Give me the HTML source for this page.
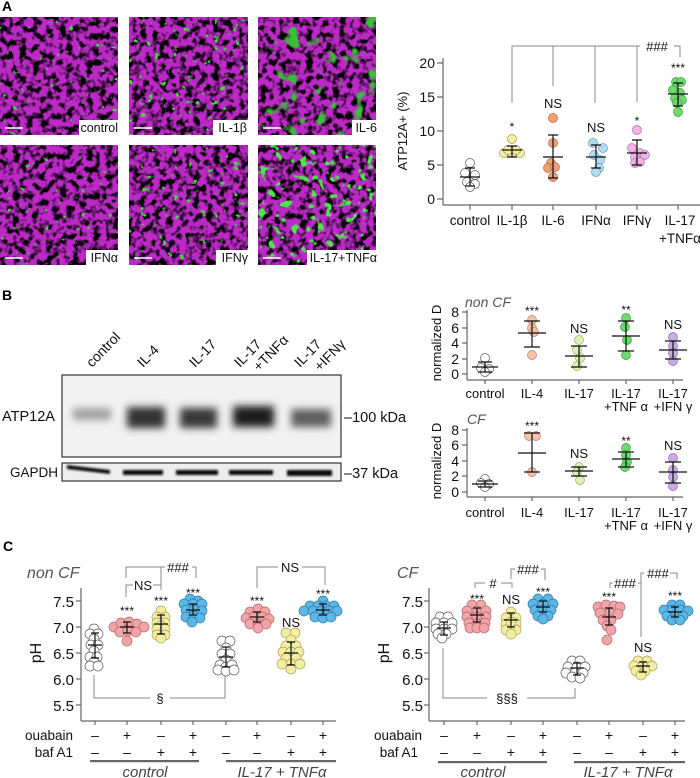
<!DOCTYPE html>
<html><head><meta charset="utf-8">
<style>
html,body{margin:0;padding:0;background:#fff;}
svg{display:block;font-family:"Liberation Sans",sans-serif;}
.ax{stroke:#666;stroke-width:1.2;fill:none}
.br{stroke:#888;stroke-width:1;fill:none}
.eb{stroke:#111;stroke-width:1.2;fill:none}
.t13{font-size:13px;fill:#111}
.t14{font-size:14px;fill:#111}
.st{font-size:12px;fill:#111}
.w{fill:#fff;stroke:#555;stroke-width:.7}
.ya{fill:#f6eea4;stroke:#9a9460;stroke-width:.7}
.or{fill:#f2a072;stroke:#a86a48;stroke-width:.7}
.lb{fill:#b0dbf2;stroke:#6a98b0;stroke-width:.7}
.pi{fill:#f2b2e6;stroke:#a87aa0;stroke-width:.7}
.gr{fill:#6cda6c;stroke:#3c9a3c;stroke-width:.7}
.sa{fill:#f6c2aa;stroke:#b08270;stroke-width:.7}
.lg{fill:#ddf2b2;stroke:#98aa70;stroke-width:.7}
.pu{fill:#c9aae6;stroke:#8a70a8;stroke-width:.7}
.pk{fill:#f2a4a6;stroke:#b06a6c;stroke-width:.7}
.yl{fill:#f4eea0;stroke:#a8a060;stroke-width:.7}
.bl{fill:#5cb6e6;stroke:#2d7aa8;stroke-width:.7}
.it{font-style:italic;fill:#555}
</style></head><body>
<svg width="700" height="778" viewBox="0 0 700 778" xmlns="http://www.w3.org/2000/svg">
<defs>
<filter id="m1" x="0" y="0" width="1" height="1" color-interpolation-filters="sRGB">
<feTurbulence type="fractalNoise" baseFrequency="0.15" numOctaves="2" seed="4"/>
<feColorMatrix type="matrix" values="0 0 0 0 0.74  0 0 0 0 0.16  0 0 0 0 0.78  4.5 0 0 0 -1.5"/>
</filter>
<filter id="g0" x="0" y="0" width="1" height="1" color-interpolation-filters="sRGB">
<feTurbulence type="fractalNoise" baseFrequency="0.16" numOctaves="2" seed="11"/>
<feColorMatrix type="matrix" values="0 0 0 0 0.25  0 0 0 0 0.85  0 0 0 0 0.25  14 0 0 0 -10.2"/>
</filter>
<filter id="g1" x="0" y="0" width="1" height="1" color-interpolation-filters="sRGB">
<feTurbulence type="fractalNoise" baseFrequency="0.15" numOctaves="2" seed="17"/>
<feColorMatrix type="matrix" values="0 0 0 0 0.25  0 0 0 0 0.85  0 0 0 0 0.25  12 0 0 0 -8.2"/>
</filter>
<filter id="g2" x="0" y="0" width="1" height="1" color-interpolation-filters="sRGB">
<feTurbulence type="fractalNoise" baseFrequency="0.06" numOctaves="2" seed="23"/>
<feColorMatrix type="matrix" values="0 0 0 0 0.22  0 0 0 0 0.75  0 0 0 0 0.22  9 0 0 0 -5.6"/>
</filter>
<filter id="g3" x="0" y="0" width="1" height="1" color-interpolation-filters="sRGB">
<feTurbulence type="fractalNoise" baseFrequency="0.12" numOctaves="2" seed="31"/>
<feColorMatrix type="matrix" values="0 0 0 0 0.3  0 0 0 0 0.9  0 0 0 0 0.3  10 0 0 0 -6.0"/>
</filter>
<filter id="bl3" x="-40%" y="-100%" width="180%" height="300%"><feGaussianBlur stdDeviation="4"/></filter>
<filter id="bl1" x="-10%" y="-100%" width="120%" height="300%"><feGaussianBlur stdDeviation="1"/></filter>
</defs>

<!-- Panel A images -->
<text x="2" y="11" style="font-size:14px;font-weight:bold;fill:#000">A</text>
<g>
<rect x="0" y="17" width="118" height="118" fill="#000"/>
<rect x="0" y="17" width="118" height="118" fill="#fff" filter="url(#m1)"/>
<rect x="0" y="17" width="118" height="118" fill="#fff" filter="url(#g0)"/>
<rect x="129" y="17" width="119" height="118" fill="#000"/>
<rect x="129" y="17" width="119" height="118" fill="#fff" filter="url(#m1)"/>
<rect x="129" y="17" width="119" height="118" fill="#fff" filter="url(#g1)"/>
<rect x="258" y="17" width="118" height="118" fill="#000"/>
<rect x="258" y="17" width="118" height="118" fill="#fff" filter="url(#m1)"/>
<rect x="258" y="17" width="118" height="118" fill="#fff" filter="url(#g2)"/>
<rect x="0" y="145" width="118" height="120" fill="#000"/>
<rect x="0" y="145" width="118" height="120" fill="#fff" filter="url(#m1)"/>
<rect x="0" y="145" width="118" height="120" fill="#fff" filter="url(#g0)"/>
<rect x="129" y="145" width="119" height="120" fill="#000"/>
<rect x="129" y="145" width="119" height="120" fill="#fff" filter="url(#m1)"/>
<rect x="129" y="145" width="119" height="120" fill="#fff" filter="url(#g1)"/>
<rect x="258" y="145" width="118" height="120" fill="#000"/>
<rect x="258" y="145" width="118" height="120" fill="#fff" filter="url(#m1)"/>
<rect x="258" y="145" width="118" height="120" fill="#fff" filter="url(#g3)"/>
<g stroke="#fff" stroke-width="1.6">
<line x1="5" y1="128" x2="23" y2="128"/><line x1="134" y1="128" x2="152" y2="128"/><line x1="263" y1="128" x2="281" y2="128"/>
<line x1="5" y1="258" x2="23" y2="258"/><line x1="134" y1="258" x2="152" y2="258"/><line x1="263" y1="258" x2="281" y2="258"/>
</g>
<g fill="#fff">
<rect x="79" y="120" width="39" height="15"/><rect x="213" y="120" width="35" height="15"/><rect x="352" y="120" width="24" height="15"/>
<rect x="86" y="250" width="32" height="15"/><rect x="216" y="250" width="32" height="15"/><rect x="307" y="250" width="69" height="15"/>
</g>
<g class="t13" text-anchor="end" style="font-size:12.5px">
<text x="118" y="132">control</text><text x="247" y="132">IL-1β</text><text x="377" y="132">IL-6</text>
<text x="118" y="262">IFNα</text><text x="248" y="262">IFNγ</text><text x="377" y="262">IL-17+TNFα</text>
</g>
</g>

<!-- Panel A chart -->
<g>
<line class="ax" x1="443" y1="58" x2="443" y2="205"/>
<line class="ax" x1="443" y1="205" x2="700" y2="205"/>
<g class="ax">
<line x1="437" y1="63" x2="443" y2="63"/><line x1="437" y1="97" x2="443" y2="97"/><line x1="437" y1="131" x2="443" y2="131"/><line x1="437" y1="165" x2="443" y2="165"/><line x1="437" y1="199" x2="443" y2="199"/>
<line x1="470" y1="205" x2="470" y2="210"/><line x1="512" y1="205" x2="512" y2="210"/><line x1="553" y1="205" x2="553" y2="210"/><line x1="596" y1="205" x2="596" y2="210"/><line x1="637" y1="205" x2="637" y2="210"/><line x1="678" y1="205" x2="678" y2="210"/>
</g>
<g class="t14" text-anchor="end">
<text x="435" y="68">20</text><text x="435" y="102">15</text><text x="435" y="136">10</text><text x="435" y="170">5</text><text x="435" y="204">0</text>
</g>
<text class="t13" transform="translate(407,131) rotate(-90)" text-anchor="middle">ATP12A+ (%)</text>
<g class="t13" text-anchor="middle" style="font-size:13.5px">
<text x="470" y="225">control</text><text x="512" y="225">IL-1β</text><text x="553" y="225">IL-6</text><text x="596" y="225">IFNα</text><text x="637" y="225">IFNγ</text><text x="680" y="225">IL-17</text><text x="680" y="243">+TNFα</text>
</g>
<path class="br" d="M512,103 V46 H640 M674,46 H680 V57 M553,46 V86 M595,46 V103 M637,46 V102"/>
<text class="t13" x="657" y="51" text-anchor="middle">###</text>
<g class="st" text-anchor="middle">
<text x="512" y="131">*</text><text x="637" y="125">*</text><text x="678" y="72">***</text>
</g>
<g class="t13" text-anchor="middle"><text x="553" y="108">NS</text><text x="596" y="132">NS</text></g>
<g>
<circle class="w" cx="470" cy="163" r="4.5"/><circle class="w" cx="465" cy="173" r="4.5"/><circle class="w" cx="475" cy="175" r="4.5"/><circle class="w" cx="467" cy="182" r="4.5"/><circle class="w" cx="475" cy="184" r="4.5"/><circle class="w" cx="470" cy="187" r="4.5"/>
<circle class="ya" cx="512" cy="139" r="4.5"/><circle class="ya" cx="504" cy="153" r="4.5"/><circle class="ya" cx="512" cy="153" r="4.5"/><circle class="ya" cx="520" cy="153" r="4.5"/><circle class="ya" cx="508" cy="150" r="4.5"/><circle class="ya" cx="516" cy="150" r="4.5"/>
<circle class="or" cx="553" cy="118" r="4.5"/><circle class="or" cx="553" cy="143" r="4.5"/><circle class="or" cx="551" cy="163" r="4.5"/><circle class="or" cx="548" cy="168" r="4.5"/><circle class="or" cx="555" cy="167" r="4.5"/><circle class="or" cx="553" cy="177" r="4.5"/>
<circle class="lb" cx="593" cy="143" r="4.5"/><circle class="lb" cx="603" cy="148" r="4.5"/><circle class="lb" cx="594" cy="155" r="4.5"/><circle class="lb" cx="600" cy="160" r="4.5"/><circle class="lb" cx="599" cy="168" r="4.5"/><circle class="lb" cx="596" cy="172" r="4.5"/>
<circle class="pi" cx="637" cy="130" r="4.5"/><circle class="pi" cx="632" cy="148" r="4.5"/><circle class="pi" cx="640" cy="153" r="4.5"/><circle class="pi" cx="635" cy="157" r="4.5"/><circle class="pi" cx="645" cy="155" r="4.5"/><circle class="pi" cx="635" cy="163" r="4.5"/><circle class="pi" cx="640" cy="162" r="4.5"/>
<circle class="gr" cx="676" cy="82" r="4.5"/><circle class="gr" cx="681" cy="82" r="4.5"/><circle class="gr" cx="673" cy="90" r="4.5"/><circle class="gr" cx="680" cy="93" r="4.5"/><circle class="gr" cx="675" cy="98" r="4.5"/><circle class="gr" cx="682" cy="100" r="4.5"/><circle class="gr" cx="677" cy="103" r="4.5"/><circle class="gr" cx="678" cy="112" r="4.5"/>
</g>
<path class="eb" d="M470,168V186M465,168H475M465,186H475M460,177H480
M512,146V157M507,146H517M507,157H517M502,150H522
M553,135V178M548,135H558M548,178H558M543,157H563
M596,145V168M591,145H601M591,168H601M586,157H606
M637,140V165M632,140H642M632,165H642M627,153H647
M678,83V106M673,83H683M673,106H683M668,94H688"/>
</g>

<!-- Panel B blot -->
<text x="2" y="300" style="font-size:14px;font-weight:bold;fill:#000">B</text>
<g class="t14" style="font-size:14px">
<text transform="translate(92,368) rotate(-46)">control</text>
<text transform="translate(143,368) rotate(-46)">IL-4</text>
<text transform="translate(195,368) rotate(-46)">IL-17</text>
<text transform="translate(240,368) rotate(-46)">IL-17</text>
<text transform="translate(259,372) rotate(-46)">+TNFα</text>
<text transform="translate(300,368) rotate(-46)">IL-17</text>
<text transform="translate(320,372) rotate(-46)">+IFNγ</text>
</g>
<rect x="62" y="375" width="279" height="82" fill="#f2f2f2" stroke="#333" stroke-width="1.2"/>
<g filter="url(#bl3)">
<rect x="73" y="408" width="38" height="12" fill="#a0a0a0"/>
<rect x="127" y="407" width="38" height="21" fill="#303030"/>
<rect x="180" y="408" width="37" height="20" fill="#383838"/>
<rect x="233" y="406" width="41" height="21" fill="#1c1c1c"/>
<rect x="291" y="409" width="40" height="18" fill="#5e5e5e"/>
</g>
<rect x="62" y="463" width="279" height="18" fill="#eee" stroke="#333" stroke-width="1.2"/>
<g filter="url(#bl1)" fill="#111">
<polygon points="67,465 110,470 110,474 67,469"/>
<rect x="123" y="470" width="40" height="5"/>
<rect x="176" y="470" width="42" height="5"/>
<rect x="229" y="470" width="44" height="5"/>
<rect x="287" y="470" width="45" height="6"/>
</g>
<text class="t14" x="2" y="421" style="font-size:14.5px">ATP12A</text>
<text class="t14" x="10" y="477" style="font-size:13.5px">GAPDH</text>
<text class="t14" x="344" y="422" style="font-size:14.5px">–100 kDa</text>
<text class="t14" x="344" y="478" style="font-size:14.5px">–37 kDa</text>

<!-- Panel B charts -->
<g>
<text class="it" x="465" y="307" style="font-size:14px">non CF</text>
<line class="ax" x1="467" y1="310" x2="467" y2="380"/><line class="ax" x1="467" y1="380" x2="683" y2="380"/>
<g class="ax">
<line x1="462" y1="312" x2="467" y2="312"/><line x1="462" y1="328" x2="467" y2="328"/><line x1="462" y1="343" x2="467" y2="343"/><line x1="462" y1="359" x2="467" y2="359"/><line x1="462" y1="374" x2="467" y2="374"/>
<line x1="485" y1="380" x2="485" y2="384"/><line x1="532" y1="380" x2="532" y2="384"/><line x1="579" y1="380" x2="579" y2="384"/><line x1="626" y1="380" x2="626" y2="384"/><line x1="673" y1="380" x2="673" y2="384"/>
</g>
<g class="t13" text-anchor="end" style="font-size:14px"><text x="459" y="317">8</text><text x="459" y="333">6</text><text x="459" y="348">4</text><text x="459" y="364">2</text><text x="459" y="379">0</text></g>
<text class="t13" transform="translate(441,343) rotate(-90)" text-anchor="middle">normalized D</text>
<g class="t13" text-anchor="middle"><text x="485" y="398">control</text><text x="532" y="398">IL-4</text><text x="579" y="398">IL-17</text><text x="626" y="398">IL-17</text><text x="673" y="398">IL-17</text><text x="626" y="411">+TNF α</text><text x="673" y="411">+IFN γ</text></g>
<g class="st" text-anchor="middle"><text x="532" y="315">***</text><text x="626" y="314">**</text></g>
<g class="t13" text-anchor="middle"><text x="579" y="333">NS</text><text x="673" y="329">NS</text></g>
<circle class="w" cx="485" cy="358" r="4.5"/><circle class="w" cx="481" cy="368" r="4.5"/><circle class="w" cx="489" cy="369" r="4.5"/><circle class="w" cx="485" cy="372" r="4.5"/>
<circle class="sa" cx="532" cy="320" r="4.5"/><circle class="sa" cx="532" cy="328" r="4.5"/><circle class="sa" cx="534" cy="332" r="4.5"/><circle class="sa" cx="532" cy="355" r="4.5"/>
<circle class="lg" cx="579" cy="340" r="4.5"/><circle class="lg" cx="577" cy="350" r="4.5"/><circle class="lg" cx="580" cy="358" r="4.5"/><circle class="lg" cx="577" cy="366" r="4.5"/>
<circle class="gr" cx="626" cy="318" r="4.5"/><circle class="gr" cx="625" cy="327" r="4.5"/><circle class="gr" cx="627" cy="340" r="4.5"/><circle class="gr" cx="626" cy="355" r="4.5"/>
<circle class="pu" cx="673" cy="337" r="4.5"/><circle class="pu" cx="673" cy="346" r="4.5"/><circle class="pu" cx="673" cy="353" r="4.5"/><circle class="pu" cx="673" cy="361" r="4.5"/>
<path class="eb" d="M485,362V372M478,362H492M478,372H492M472,367H498
M532,321V347M524,321H540M524,347H540M518,333H546
M579,346V367M571,346H587M571,367H587M565,356H593
M626,321V351M618,321H634M618,351H634M612,336H640
M673,341V359M665,341H681M665,359H681M659,350H687"/>
</g>
<g>
<text class="it" x="467" y="424" style="font-size:14px">CF</text>
<line class="ax" x1="467" y1="428" x2="467" y2="497"/><line class="ax" x1="467" y1="497" x2="683" y2="497"/>
<g class="ax">
<line x1="462" y1="430" x2="467" y2="430"/><line x1="462" y1="445" x2="467" y2="445"/><line x1="462" y1="461" x2="467" y2="461"/><line x1="462" y1="476" x2="467" y2="476"/><line x1="462" y1="492" x2="467" y2="492"/>
<line x1="485" y1="497" x2="485" y2="501"/><line x1="532" y1="497" x2="532" y2="501"/><line x1="579" y1="497" x2="579" y2="501"/><line x1="626" y1="497" x2="626" y2="501"/><line x1="673" y1="497" x2="673" y2="501"/>
</g>
<g class="t13" text-anchor="end" style="font-size:14px"><text x="459" y="435">8</text><text x="459" y="450">6</text><text x="459" y="466">4</text><text x="459" y="481">2</text><text x="459" y="497">0</text></g>
<text class="t13" transform="translate(441,461) rotate(-90)" text-anchor="middle">normalized D</text>
<g class="t13" text-anchor="middle"><text x="485" y="517">control</text><text x="532" y="517">IL-4</text><text x="579" y="517">IL-17</text><text x="626" y="517">IL-17</text><text x="673" y="517">IL-17</text><text x="626" y="530">+TNF α</text><text x="673" y="530">+IFN γ</text></g>
<g class="st" text-anchor="middle"><text x="532" y="430">***</text><text x="626" y="445">**</text></g>
<g class="t13" text-anchor="middle"><text x="579" y="458">NS</text><text x="673" y="450">NS</text></g>
<circle class="w" cx="485" cy="479" r="4.5"/><circle class="w" cx="481" cy="483" r="4.5"/><circle class="w" cx="489" cy="484" r="4.5"/><circle class="w" cx="485" cy="487" r="4.5"/>
<circle class="sa" cx="529" cy="436" r="4.5"/><circle class="sa" cx="536" cy="436" r="4.5"/><circle class="sa" cx="532" cy="472" r="4.5"/>
<circle class="lg" cx="579" cy="467" r="4.5"/><circle class="lg" cx="577" cy="472" r="4.5"/><circle class="lg" cx="580" cy="480" r="4.5"/>
<circle class="gr" cx="626" cy="448" r="4.5"/><circle class="gr" cx="626" cy="455" r="4.5"/><circle class="gr" cx="627" cy="462" r="4.5"/><circle class="gr" cx="625" cy="467" r="4.5"/>
<circle class="pu" cx="673" cy="458" r="4.5"/><circle class="pu" cx="673" cy="470" r="4.5"/><circle class="pu" cx="673" cy="477" r="4.5"/><circle class="pu" cx="673" cy="486" r="4.5"/>
<path class="eb" d="M485,481V487M478,481H492M478,487H492M472,484H498
M532,433V472M524,433H540M524,472H540M518,453H546
M579,467V476M571,467H587M571,476H587M565,471H593
M626,452V467M618,452H634M618,467H634M612,459H640
M673,462V483M665,462H681M665,483H681M659,472H687"/>
</g>

<!-- Panel C left -->
<text x="3" y="551" style="font-size:14px;font-weight:bold;fill:#000">C</text>
<g>
<text class="it" x="27" y="578" style="font-size:16px">non CF</text>
<line class="ax" x1="81" y1="588" x2="81" y2="721"/><line class="ax" x1="81" y1="721" x2="336" y2="721"/>
<g class="ax">
<line x1="76" y1="601" x2="81" y2="601"/><line x1="76" y1="627" x2="81" y2="627"/><line x1="76" y1="653" x2="81" y2="653"/><line x1="76" y1="679" x2="81" y2="679"/><line x1="76" y1="705" x2="81" y2="705"/>
<line x1="95" y1="721" x2="95" y2="725"/><line x1="127" y1="721" x2="127" y2="725"/><line x1="161" y1="721" x2="161" y2="725"/><line x1="193" y1="721" x2="193" y2="725"/><line x1="226" y1="721" x2="226" y2="725"/><line x1="257" y1="721" x2="257" y2="725"/><line x1="291" y1="721" x2="291" y2="725"/><line x1="323" y1="721" x2="323" y2="725"/>
</g>
<g class="t14" text-anchor="end" style="font-size:15px"><text x="74" y="607">7.5</text><text x="74" y="633">7.0</text><text x="74" y="659">6.5</text><text x="74" y="685">6.0</text><text x="74" y="711">5.5</text></g>
<text class="t14" transform="translate(41,653) rotate(-90)" text-anchor="middle" style="font-size:16px">pH</text>
<path class="br" d="M126,578V567H165M192,567H196V578M161,567V590M126,597V585H133M153,585H161M257,588V567H278M302,567H325V585M94,675V698H150M170,698H225V675"/>
<g class="t13" text-anchor="middle"><text x="178" y="572">###</text><text x="143" y="590">NS</text><text x="290" y="572">NS</text><text x="160" y="703">§</text><text x="291" y="627">NS</text></g>
<g class="st" text-anchor="middle"><text x="127" y="615">***</text><text x="161" y="605">***</text><text x="193" y="597">***</text><text x="257" y="605">***</text><text x="323" y="598">***</text></g>
<g>
<circle class="w" cx="94" cy="629" r="5"/><circle class="w" cx="90" cy="634" r="5"/><circle class="w" cx="98" cy="634" r="5"/><circle class="w" cx="94" cy="639" r="5"/><circle class="w" cx="91" cy="645" r="5"/><circle class="w" cx="98" cy="645" r="5"/><circle class="w" cx="94" cy="651" r="5"/><circle class="w" cx="90" cy="657" r="5"/><circle class="w" cx="97" cy="657" r="5"/><circle class="w" cx="94" cy="662" r="5"/><circle class="w" cx="90" cy="666" r="5"/><circle class="w" cx="98" cy="666" r="5"/>
<circle class="pk" cx="114" cy="627" r="5"/><circle class="pk" cx="121" cy="623" r="5"/><circle class="pk" cx="129" cy="622" r="5"/><circle class="pk" cx="137" cy="624" r="5"/><circle class="pk" cx="144" cy="627" r="5"/><circle class="pk" cx="120" cy="632" r="5"/><circle class="pk" cx="128" cy="631" r="5"/><circle class="pk" cx="136" cy="632" r="5"/><circle class="pk" cx="127" cy="641" r="5"/>
<circle class="yl" cx="161" cy="611" r="5"/><circle class="yl" cx="157" cy="617" r="5"/><circle class="yl" cx="165" cy="617" r="5"/><circle class="yl" cx="157" cy="623" r="5"/><circle class="yl" cx="165" cy="623" r="5"/><circle class="yl" cx="161" cy="626" r="5"/><circle class="yl" cx="157" cy="629" r="5"/><circle class="yl" cx="165" cy="629" r="5"/><circle class="yl" cx="157" cy="635" r="5"/><circle class="yl" cx="165" cy="635" r="5"/><circle class="yl" cx="161" cy="638" r="5"/>
<circle class="bl" cx="190" cy="599" r="5"/><circle class="bl" cx="198" cy="601" r="5"/><circle class="bl" cx="184" cy="604" r="5"/><circle class="bl" cx="193" cy="604" r="5"/><circle class="bl" cx="202" cy="604" r="5"/><circle class="bl" cx="186" cy="610" r="5"/><circle class="bl" cx="194" cy="610" r="5"/><circle class="bl" cx="202" cy="611" r="5"/><circle class="bl" cx="186" cy="617" r="5"/><circle class="bl" cx="194" cy="616" r="5"/><circle class="bl" cx="200" cy="618" r="5"/><circle class="bl" cx="192" cy="622" r="5"/>
<circle class="w" cx="222" cy="641" r="5"/><circle class="w" cx="230" cy="641" r="5"/><circle class="w" cx="226" cy="648" r="5"/><circle class="w" cx="222" cy="654" r="5"/><circle class="w" cx="230" cy="654" r="5"/><circle class="w" cx="226" cy="660" r="5"/><circle class="w" cx="220" cy="665" r="5"/><circle class="w" cx="226" cy="667" r="5"/><circle class="w" cx="232" cy="665" r="5"/><circle class="w" cx="218" cy="670" r="5"/><circle class="w" cx="226" cy="671" r="5"/><circle class="w" cx="234" cy="670" r="5"/>
<circle class="pk" cx="250" cy="612" r="5"/><circle class="pk" cx="258" cy="609" r="5"/><circle class="pk" cx="265" cy="612" r="5"/><circle class="pk" cx="246" cy="618" r="5"/><circle class="pk" cx="254" cy="617" r="5"/><circle class="pk" cx="262" cy="617" r="5"/><circle class="pk" cx="269" cy="619" r="5"/><circle class="pk" cx="250" cy="624" r="5"/><circle class="pk" cx="258" cy="624" r="5"/><circle class="pk" cx="266" cy="624" r="5"/><circle class="pk" cx="258" cy="628" r="5"/>
<circle class="yl" cx="286" cy="633" r="5"/><circle class="yl" cx="295" cy="633" r="5"/><circle class="yl" cx="291" cy="640" r="5"/><circle class="yl" cx="286" cy="646" r="5"/><circle class="yl" cx="296" cy="646" r="5"/><circle class="yl" cx="283" cy="652" r="5"/><circle class="yl" cx="291" cy="652" r="5"/><circle class="yl" cx="299" cy="652" r="5"/><circle class="yl" cx="286" cy="658" r="5"/><circle class="yl" cx="296" cy="658" r="5"/><circle class="yl" cx="282" cy="664" r="5"/><circle class="yl" cx="291" cy="664" r="5"/><circle class="yl" cx="300" cy="664" r="5"/><circle class="yl" cx="291" cy="669" r="5"/>
<circle class="bl" cx="323" cy="601" r="5"/><circle class="bl" cx="310" cy="606" r="5"/><circle class="bl" cx="318" cy="606" r="5"/><circle class="bl" cx="326" cy="606" r="5"/><circle class="bl" cx="334" cy="606" r="5"/><circle class="bl" cx="304" cy="611" r="5"/><circle class="bl" cx="313" cy="611" r="5"/><circle class="bl" cx="321" cy="611" r="5"/><circle class="bl" cx="329" cy="611" r="5"/><circle class="bl" cx="337" cy="611" r="5"/><circle class="bl" cx="315" cy="617" r="5"/><circle class="bl" cx="323" cy="618" r="5"/><circle class="bl" cx="331" cy="617" r="5"/>
</g>
<path class="eb" d="M95,633V658M91,633H99M91,658H99M88,645H102
M127,622V633M123,622H131M123,633H131M120,627H134
M161,615V634M157,615H165M157,634H165M154,624H168
M193,604V615M189,604H197M189,615H197M186,610H200
M226,647V667M222,647H230M222,667H230M219,657H233
M257,612V622M253,612H261M253,622H261M250,617H264
M291,642V665M287,642H295M287,665H295M284,653H298
M323,604V615M319,604H327M319,615H327M316,610H330"/>
<g class="t14" text-anchor="end" style="font-size:13.5px"><text x="73" y="740">ouabain</text><text x="73" y="757">baf A1</text></g>
<g class="t14" text-anchor="middle" style="font-size:14px">
<text x="95" y="740">–</text><text x="127" y="740">+</text><text x="161" y="740">–</text><text x="193" y="740">+</text><text x="226" y="740">–</text><text x="257" y="740">+</text><text x="291" y="740">–</text><text x="323" y="740">+</text>
<text x="95" y="757">–</text><text x="127" y="757">–</text><text x="161" y="757">+</text><text x="193" y="757">+</text><text x="226" y="757">–</text><text x="257" y="757">–</text><text x="291" y="757">+</text><text x="323" y="757">+</text>
</g>
<rect x="90" y="760" width="109" height="2.2" fill="#666"/><rect x="226" y="760" width="110" height="2.2" fill="#666"/>
<g class="it" text-anchor="middle" style="font-size:15px;fill:#444"><text x="145" y="777">control</text><text x="282" y="777">IL-17 + TNFα</text></g>
</g>

<!-- Panel C right -->
<g>
<text class="it" x="397" y="578" style="font-size:16px">CF</text>
<line class="ax" x1="429" y1="588" x2="429" y2="721"/><line class="ax" x1="429" y1="721" x2="685" y2="721"/>
<g class="ax">
<line x1="424" y1="601" x2="429" y2="601"/><line x1="424" y1="627" x2="429" y2="627"/><line x1="424" y1="653" x2="429" y2="653"/><line x1="424" y1="679" x2="429" y2="679"/><line x1="424" y1="705" x2="429" y2="705"/>
<line x1="444" y1="721" x2="444" y2="725"/><line x1="477" y1="721" x2="477" y2="725"/><line x1="511" y1="721" x2="511" y2="725"/><line x1="543" y1="721" x2="543" y2="725"/><line x1="577" y1="721" x2="577" y2="725"/><line x1="609" y1="721" x2="609" y2="725"/><line x1="643" y1="721" x2="643" y2="725"/><line x1="675" y1="721" x2="675" y2="725"/>
</g>
<g class="t14" text-anchor="end" style="font-size:15px"><text x="423" y="607">7.5</text><text x="423" y="633">7.0</text><text x="423" y="659">6.5</text><text x="423" y="685">6.0</text><text x="423" y="711">5.5</text></g>
<text class="t14" transform="translate(389,653) rotate(-90)" text-anchor="middle" style="font-size:16px">pH</text>
<path class="br" d="M475,588V583H485M501,583H512V588M511,579V569H515M541,569H545V580M610,588V583H613M638,583H641M641,637V573H644M670,573H677V579M443,648V698H487M527,698H575V688"/>
<g class="t13" text-anchor="middle"><text x="493" y="588">#</text><text x="528" y="574">###</text><text x="625" y="588">###</text><text x="658" y="578">###</text><text x="507" y="703">§§§</text><text x="511" y="604">NS</text><text x="643" y="652">NS</text></g>
<g class="st" text-anchor="middle"><text x="477" y="603">***</text><text x="543" y="596">***</text><text x="609" y="601">***</text><text x="675" y="600">***</text></g>
<g>
<circle class="w" cx="440" cy="617" r="5"/><circle class="w" cx="448" cy="617" r="5"/><circle class="w" cx="436" cy="623" r="5"/><circle class="w" cx="444" cy="623" r="5"/><circle class="w" cx="452" cy="623" r="5"/><circle class="w" cx="436" cy="629" r="5"/><circle class="w" cx="444" cy="629" r="5"/><circle class="w" cx="452" cy="629" r="5"/><circle class="w" cx="438" cy="634" r="5"/><circle class="w" cx="446" cy="634" r="5"/><circle class="w" cx="442" cy="638" r="5"/>
<circle class="pk" cx="472" cy="605" r="5"/><circle class="pk" cx="481" cy="605" r="5"/><circle class="pk" cx="467" cy="611" r="5"/><circle class="pk" cx="477" cy="611" r="5"/><circle class="pk" cx="486" cy="611" r="5"/><circle class="pk" cx="467" cy="617" r="5"/><circle class="pk" cx="477" cy="617" r="5"/><circle class="pk" cx="486" cy="617" r="5"/><circle class="pk" cx="469" cy="623" r="5"/><circle class="pk" cx="477" cy="624" r="5"/><circle class="pk" cx="485" cy="623" r="5"/><circle class="pk" cx="470" cy="628" r="5"/><circle class="pk" cx="477" cy="628" r="5"/><circle class="pk" cx="484" cy="628" r="5"/>
<circle class="yl" cx="511" cy="612" r="5"/><circle class="yl" cx="506" cy="618" r="5"/><circle class="yl" cx="516" cy="618" r="5"/><circle class="yl" cx="506" cy="624" r="5"/><circle class="yl" cx="516" cy="624" r="5"/><circle class="yl" cx="511" cy="622" r="5"/><circle class="yl" cx="506" cy="630" r="5"/><circle class="yl" cx="516" cy="630" r="5"/><circle class="yl" cx="511" cy="634" r="5"/>
<circle class="bl" cx="538" cy="599" r="5"/><circle class="bl" cx="548" cy="599" r="5"/><circle class="bl" cx="533" cy="604" r="5"/><circle class="bl" cx="543" cy="604" r="5"/><circle class="bl" cx="553" cy="604" r="5"/><circle class="bl" cx="535" cy="610" r="5"/><circle class="bl" cx="543" cy="610" r="5"/><circle class="bl" cx="551" cy="610" r="5"/><circle class="bl" cx="538" cy="616" r="5"/><circle class="bl" cx="548" cy="616" r="5"/><circle class="bl" cx="543" cy="619" r="5"/>
<circle class="w" cx="572" cy="661" r="5"/><circle class="w" cx="580" cy="661" r="5"/><circle class="w" cx="568" cy="667" r="5"/><circle class="w" cx="577" cy="667" r="5"/><circle class="w" cx="585" cy="667" r="5"/><circle class="w" cx="566" cy="673" r="5"/><circle class="w" cx="575" cy="673" r="5"/><circle class="w" cx="583" cy="673" r="5"/><circle class="w" cx="572" cy="677" r="5"/><circle class="w" cx="580" cy="678" r="5"/>
<circle class="pk" cx="598" cy="607" r="5"/><circle class="pk" cx="606" cy="605" r="5"/><circle class="pk" cx="614" cy="606" r="5"/><circle class="pk" cx="620" cy="607" r="5"/><circle class="pk" cx="600" cy="613" r="5"/><circle class="pk" cx="610" cy="613" r="5"/><circle class="pk" cx="618" cy="614" r="5"/><circle class="pk" cx="603" cy="620" r="5"/><circle class="pk" cx="611" cy="620" r="5"/><circle class="pk" cx="607" cy="626" r="5"/><circle class="pk" cx="611" cy="630" r="5"/><circle class="pk" cx="607" cy="640" r="5"/>
<circle class="yl" cx="638" cy="661" r="5"/><circle class="yl" cx="647" cy="661" r="5"/><circle class="yl" cx="634" cy="666" r="5"/><circle class="yl" cx="643" cy="666" r="5"/><circle class="yl" cx="652" cy="666" r="5"/><circle class="yl" cx="636" cy="671" r="5"/><circle class="yl" cx="645" cy="671" r="5"/><circle class="yl" cx="641" cy="675" r="5"/>
<circle class="bl" cx="672" cy="605" r="5"/><circle class="bl" cx="680" cy="605" r="5"/><circle class="bl" cx="664" cy="610" r="5"/><circle class="bl" cx="672" cy="610" r="5"/><circle class="bl" cx="680" cy="610" r="5"/><circle class="bl" cx="688" cy="611" r="5"/><circle class="bl" cx="667" cy="616" r="5"/><circle class="bl" cx="675" cy="616" r="5"/><circle class="bl" cx="683" cy="616" r="5"/><circle class="bl" cx="672" cy="620" r="5"/><circle class="bl" cx="680" cy="620" r="5"/>
</g>
<path class="eb" d="M444,622V635M440,622H448M440,635H448M437,628H451
M477,608V622M473,608H481M473,622H481M470,615H484
M511,613V627M507,613H515M507,627H515M504,620H518
M543,601V612M539,601H547M539,612H547M536,607H550
M577,663V675M573,663H581M573,675H581M570,668H584
M609,608V625M605,608H613M605,625H613M602,617H616
M643,662V672M639,662H647M639,672H647M636,666H650
M675,607V617M671,607H679M671,617H679M668,612H682"/>
<g class="t14" text-anchor="end" style="font-size:13.5px"><text x="422" y="740">ouabain</text><text x="418" y="757">baf A1</text></g>
<g class="t14" text-anchor="middle" style="font-size:14px">
<text x="444" y="740">–</text><text x="477" y="740">+</text><text x="511" y="740">–</text><text x="543" y="740">+</text><text x="577" y="740">–</text><text x="609" y="740">+</text><text x="643" y="740">–</text><text x="675" y="740">+</text>
<text x="444" y="757">–</text><text x="477" y="757">–</text><text x="511" y="757">+</text><text x="543" y="757">+</text><text x="577" y="757">–</text><text x="609" y="757">–</text><text x="643" y="757">+</text><text x="675" y="757">+</text>
</g>
<rect x="438" y="761" width="109" height="2.2" fill="#666"/><rect x="574" y="761" width="111" height="2.2" fill="#666"/>
<g class="it" text-anchor="middle" style="font-size:15px;fill:#444"><text x="483" y="777">control</text><text x="628" y="777">IL-17 + TNFα</text></g>
</g>
</svg>
</body></html>
